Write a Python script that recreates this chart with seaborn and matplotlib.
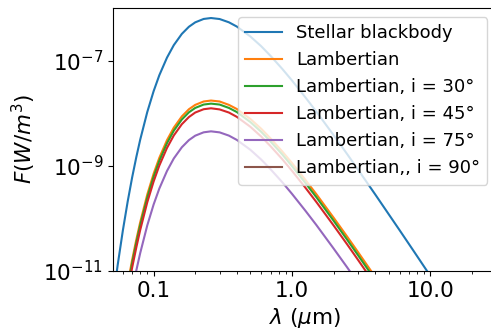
import matplotlib

matplotlib.use("Agg")
import matplotlib.pyplot as plt
import seaborn as sns
from matplotlib.ticker import (
    FixedFormatter,
    FixedLocator,
    LogFormatterSciNotation,
    LogLocator,
    NullFormatter,
    NullLocator,
)

# wavelength grid (micron) and fluxes
wavelength = [0.05, 0.055, 0.06, 0.065, 0.07, 0.075, 0.08, 0.09, 0.1, 0.11,
              0.125, 0.14, 0.16, 0.18, 0.2, 0.23, 0.26, 0.3, 0.35, 0.4,
              0.5, 0.6, 0.7, 0.85, 1.0, 1.25, 1.5, 2.0, 2.5, 3.0,
              4.0, 5.0, 6.0, 7.5, 9.3, 11.0]

stellar = [1.96e-12, 1.29e-11, 5.94e-11, 2.10e-10, 6.02e-10, 1.46e-9, 3.12e-9, 1.05e-8, 2.61e-8, 5.27e-8,
           1.14e-7, 1.97e-7, 3.22e-7, 4.40e-7, 5.34e-7, 6.19e-7, 6.45e-7, 6.17e-7, 5.35e-7, 4.43e-7,
           2.88e-7, 1.87e-7, 1.23e-7, 6.98e-8, 4.19e-8, 2.00e-8, 1.07e-8, 3.82e-9, 1.68e-9, 8.48e-10,
           2.84e-10, 1.20e-10, 5.94e-11, 2.49e-11, 1.07e-11, 5.53e-12]

lambert = [5.3e-14, 3.48e-13, 1.60e-12, 5.67e-12, 1.63e-11, 3.94e-11, 8.42e-11, 2.84e-10, 7.05e-10, 1.42e-9,
           3.08e-9, 5.32e-9, 8.69e-9, 1.19e-8, 1.44e-8, 1.67e-8, 1.74e-8, 1.67e-8, 1.44e-8, 1.20e-8,
           7.78e-9, 5.05e-9, 3.32e-9, 1.88e-9, 1.13e-9, 5.40e-10, 2.89e-10, 1.03e-10, 4.54e-11, 2.29e-11,
           7.67e-12, 3.24e-12, 1.6e-12, 6.7e-13, 2.9e-13, 1.5e-13]

lambert_30 = [4.6e-14, 3.04e-13, 1.40e-12, 4.96e-12, 1.42e-11, 3.45e-11, 7.36e-11, 2.48e-10, 6.16e-10, 1.24e-9,
              2.69e-9, 4.65e-9, 7.60e-9, 1.04e-8, 1.26e-8, 1.46e-8, 1.52e-8, 1.46e-8, 1.26e-8, 1.05e-8,
              6.80e-9, 4.41e-9, 2.90e-9, 1.65e-9, 9.89e-10, 4.72e-10, 2.53e-10, 9.02e-11, 3.96e-11, 2.00e-11,
              6.70e-12, 2.83e-12, 1.40e-12, 5.9e-13, 2.5e-13, 1.3e-13]

lambert_45 = [3.8e-14, 2.48e-13, 1.14e-12, 4.03e-12, 1.16e-11, 2.80e-11, 5.99e-11, 2.02e-10, 5.01e-10, 1.01e-9,
              2.19e-9, 3.78e-9, 6.18e-9, 8.45e-9, 1.03e-8, 1.19e-8, 1.24e-8, 1.18e-8, 1.03e-8, 8.51e-9,
              5.53e-9, 3.59e-9, 2.36e-9, 1.34e-9, 8.04e-10, 3.84e-10, 2.05e-10, 7.33e-11, 3.23e-11, 1.63e-11,
              5.45e-12, 2.30e-12, 1.14e-12, 4.8e-13, 2.1e-13, 1.1e-13]

lambert_75 = [1.4e-14, 9.0e-14, 4.16e-13, 1.47e-12, 4.21e-12, 1.02e-11, 2.18e-11, 7.35e-11, 1.83e-10, 3.69e-10,
              7.98e-10, 1.38e-9, 2.25e-9, 3.08e-9, 3.74e-9, 4.33e-9, 4.52e-9, 4.32e-9, 3.75e-9, 3.10e-9,
              2.02e-9, 1.31e-9, 8.61e-10, 4.89e-10, 2.93e-10, 1.40e-10, 7.49e-11, 2.67e-11, 1.18e-11, 5.94e-12,
              1.99e-12, 8.4e-13, 4.2e-13, 1.7e-13, 7.5e-14, 3.9e-14]

# edge-on: nothing reflected, curve never shows up on the log axis
lambert_90 = [0.0] * len(wavelength)

series = [stellar, lambert, lambert_30, lambert_45, lambert_75, lambert_90]
labels = [
    "Stellar blackbody",
    "Lambertian",
    "Lambertian, i = 30°",
    "Lambertian, i = 45°",
    "Lambertian, i = 75°",
    "Lambertian,, i = 90°",
]
colors = sns.color_palette("tab10", 6)

fig = plt.figure(figsize=(4.91, 3.29), dpi=100)
ax = fig.add_axes([113 / 491, 58 / 329, 383.4 / 491, 263 / 329])

for vals, label, color in zip(series, labels, colors):
    sns.lineplot(x=wavelength, y=vals, label=label, color=color, linewidth=1.5, ax=ax)

ax.set_xscale("log")
ax.set_yscale("log", nonpositive="mask")
ax.set_xlim(0.0509, 30)
ax.set_ylim(1e-11, 1e-6)

ax.xaxis.set_major_locator(FixedLocator([0.1, 1.0, 10.0]))
ax.xaxis.set_major_formatter(FixedFormatter(["0.1", "1.0", "10.0"]))
ax.xaxis.set_minor_locator(LogLocator(base=10, subs=range(2, 10), numticks=50))
ax.xaxis.set_minor_formatter(NullFormatter())
ax.yaxis.set_major_locator(FixedLocator([1e-11, 1e-9, 1e-7]))
ax.yaxis.set_major_formatter(LogFormatterSciNotation())
ax.yaxis.set_minor_locator(NullLocator())

ax.tick_params(labelsize=15.5)
ax.set_xlabel(r"$\lambda$ ($\mu$m)", fontsize=15.5)
ax.set_ylabel(r"$F(W/m^3)$", fontsize=15.5)
ax.legend(loc="upper right", fontsize=13)

fig.savefig("out.png", dpi=100)
plt.close(fig)
